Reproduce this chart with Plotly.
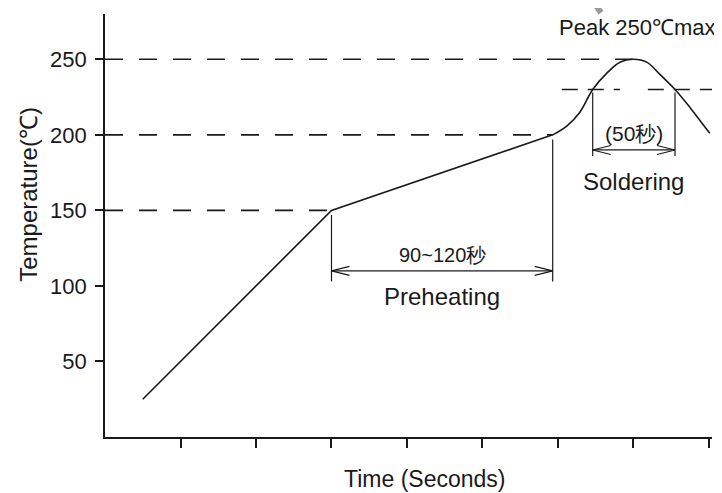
import plotly.graph_objects as go

# ---- data (x in tick units, y in °C) ----
ramp_time = [0.5, 3.0, 5.93]
ramp_temp = [25, 150, 200]

peak_time = [5.93, 6.12, 6.29, 6.46, 6.65, 6.82, 6.99, 7.18, 7.35, 7.55, 7.75, 8.01]
peak_temp = [200, 206, 215, 230, 241, 248, 250, 248, 240, 230, 218, 201]

y_ticks = [50, 100, 150, 200, 250]
x_ticks = [1, 2, 3, 4, 5, 6, 7, 8]

guide_levels = [150, 200, 250]
guide_ends = [3.0, 5.93, 6.99]

liquidus = 230
liquidus_segments = [(6.05, 6.82), (7.19, 8.04)]

preheat_start, preheat_end, preheat_y = 3.0, 5.93, 110
solder_start, solder_end, solder_y = 6.46, 7.55, 190

FONT = "Liberation Sans, Arial, sans-serif"
INK = "#1a1a1a"

X_RANGE = [0, 8.04]
Y_RANGE = [0, 280]
PX_PER_X = 607 / (X_RANGE[1] - X_RANGE[0])
PX_PER_Y = 423.5 / (Y_RANGE[1] - Y_RANGE[0])

fig = go.Figure()
fig.add_trace(go.Scatter(x=ramp_time, y=ramp_temp, mode="lines",
                         line=dict(color=INK, width=1.6), hoverinfo="skip"))
fig.add_trace(go.Scatter(x=peak_time, y=peak_temp, mode="lines",
                         line=dict(color=INK, width=1.6, shape="spline", smoothing=1.0),
                         hoverinfo="skip"))

shapes = []
dash = "18px,16px"
for lvl, end in zip(guide_levels, guide_ends):
    shapes.append(dict(type="line", xref="x", yref="y", x0=0, x1=end, y0=lvl, y1=lvl,
                       line=dict(color=INK, width=1.6, dash=dash), layer="below"))
for a, b in liquidus_segments:
    shapes.append(dict(type="line", xref="x", yref="y", x0=a, x1=b, y0=liquidus, y1=liquidus,
                       line=dict(color=INK, width=1.6, dash="16px,10px"), layer="below"))

# extension lines
for xv, top, bottom in [(preheat_start, 147, preheat_y - 7), (preheat_end, 197, preheat_y - 7),
                        (solder_start, liquidus - 2, solder_y - 4), (solder_end, liquidus - 2, solder_y - 4)]:
    shapes.append(dict(type="line", xref="x", yref="y", x0=xv, x1=xv, y0=top, y1=bottom,
                       line=dict(color=INK, width=1.2)))

# dimension arrows with open arrowheads
head_len = 18 / PX_PER_X
head_half = 4.5 / PX_PER_Y
for x0, x1, yv in [(preheat_start, preheat_end, preheat_y), (solder_start, solder_end, solder_y)]:
    shapes.append(dict(type="line", xref="x", yref="y", x0=x0, x1=x1, y0=yv, y1=yv,
                       line=dict(color=INK, width=1.2)))
    shapes.append(dict(type="path", xref="x", yref="y",
                       path=f"M{x0 + head_len},{yv + head_half} L{x0},{yv} L{x0 + head_len},{yv - head_half}",
                       line=dict(color=INK, width=1.2)))
    shapes.append(dict(type="path", xref="x", yref="y",
                       path=f"M{x1 - head_len},{yv + head_half} L{x1},{yv} L{x1 - head_len},{yv - head_half}",
                       line=dict(color=INK, width=1.2)))

# grey pointer fragment at top
shapes.append(dict(type="line", xref="x", yref="paper", x0=6.45, x1=6.57, y0=1.035, y1=1.003,
                   line=dict(color="#9a9a9a", width=6)))

annotations = [
    dict(text="90~120秒", x=(preheat_start + preheat_end) / 2, y=preheat_y, yshift=16,
         showarrow=False, font=dict(size=20)),
    dict(text="Preheating", x=(preheat_start + preheat_end) / 2, y=preheat_y, yshift=-26,
         showarrow=False, font=dict(size=24)),
    dict(text="(50秒)", x=(solder_start + solder_end) / 2, y=solder_y, yshift=16,
         showarrow=False, font=dict(size=21)),
    dict(text="Soldering", x=(solder_start + solder_end) / 2, y=solder_y, yshift=-32,
         showarrow=False, font=dict(size=24)),
    dict(text="Peak 250℃max", xref="paper", yref="paper", x=1.0, y=1.0, xanchor="right",
         yanchor="middle", xshift=6, yshift=-13, showarrow=False, font=dict(size=22)),
    dict(text="Temperature(℃)", xref="paper", yref="paper", x=0, y=0.5726, xanchor="center",
         yanchor="middle", xshift=-76, textangle=-90, showarrow=False, font=dict(size=24)),
    dict(text="Time (Seconds)", xref="paper", yref="paper", x=0.527, y=0, xanchor="center",
         yanchor="middle", yshift=-42, showarrow=False, font=dict(size=23)),
]
for a in annotations:
    a.setdefault("xref", "x")
    a.setdefault("yref", "y")
    a["font"].update(family=FONT, color=INK)

# the page body adds an 8px offset, so the figure is sized to fit the 722x493 window
fig.update_layout(
    width=714, height=485,
    margin=dict(l=97, r=10, t=6, b=56),
    paper_bgcolor="white", plot_bgcolor="white",
    showlegend=False,
    shapes=shapes, annotations=annotations,
    xaxis=dict(range=X_RANGE, tickvals=x_ticks, showticklabels=False, ticks="outside",
               ticklen=9, tickwidth=1.5, tickcolor=INK, showline=True, linecolor=INK,
               linewidth=1.6, showgrid=False, zeroline=False, fixedrange=True),
    yaxis=dict(range=Y_RANGE, tickvals=y_ticks, ticks="outside", ticklen=8, tickwidth=1.5,
               tickcolor=INK, showline=True, linecolor=INK, linewidth=1.6, showgrid=False,
               zeroline=False, ticklabelstandoff=4,
               tickfont=dict(family=FONT, size=22, color=INK), fixedrange=True),
)

fig.write_html("out.html", config={"displayModeBar": False})
